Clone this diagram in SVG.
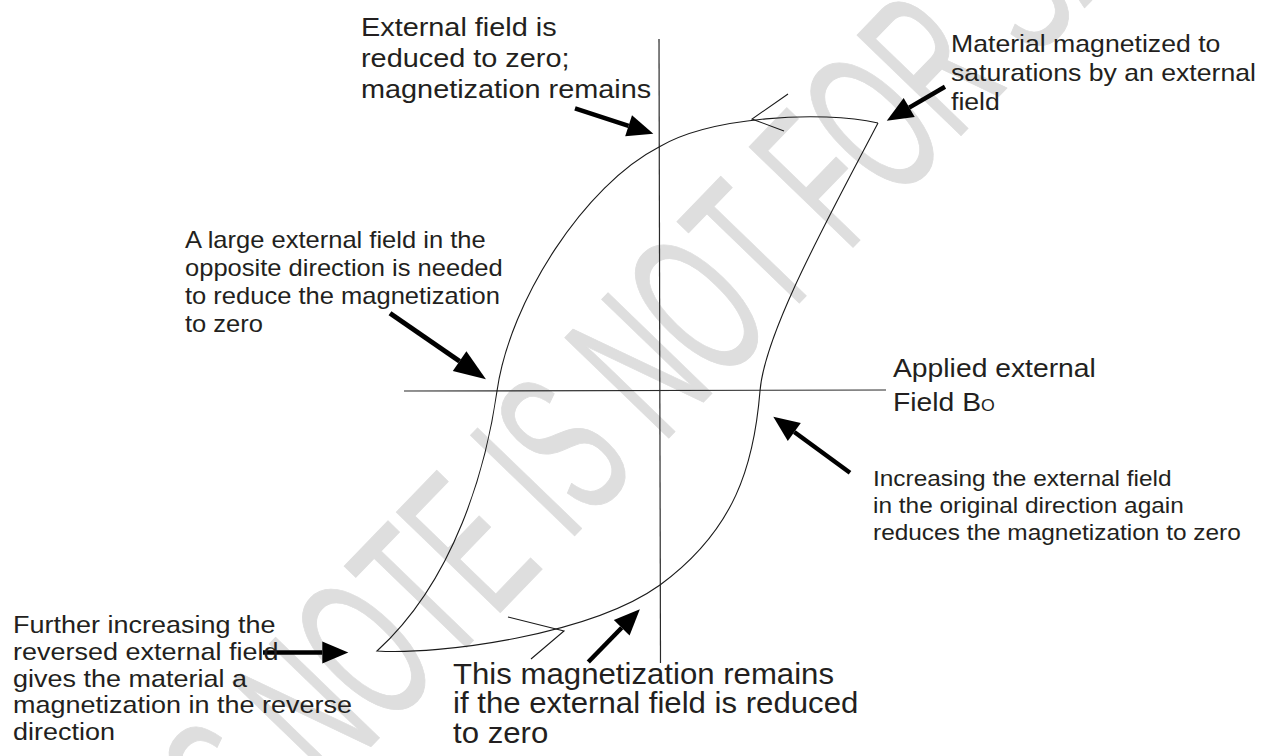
<svg xmlns="http://www.w3.org/2000/svg" width="1266" height="756" viewBox="0 0 1266 756">
<defs>
<style>
.t{font-family:"Liberation Sans",Arial,sans-serif;fill:#231f20}
.ax{stroke:#2a2a2a;stroke-width:1.2;fill:none}
.cv{stroke:#1a1a1a;stroke-width:1.1;fill:none}
.ar{stroke:#000;stroke-width:4.5;fill:none;marker-end:url(#ah)}
.arb{stroke:#000;stroke-width:5;fill:none;marker-end:url(#ahb)}
.wm{font-family:"Liberation Sans",Arial,sans-serif;font-size:210px;fill:#dedede;stroke:#dedede;stroke-width:1;stroke-linejoin:round}
</style>
<marker id="ah" markerUnits="userSpaceOnUse" markerWidth="26" markerHeight="22" refX="0" refY="11" orient="auto" overflow="visible"><path d="M0,0 L26,11 L0,22 z" fill="#000"/></marker>
<marker id="ahb" markerUnits="userSpaceOnUse" markerWidth="32" markerHeight="24" refX="0" refY="12" orient="auto" overflow="visible"><path d="M0,0 L32,12 L0,24 z" fill="#000"/></marker>
</defs>
<rect x="0" y="0" width="1266" height="756" fill="#fff"/>
<g id="watermark">
<text class="wm" transform="translate(131,995) rotate(-46) scale(0.533,1)">THIS NOTE IS NOT FOR SALE</text>
</g>
<g id="axes">
<line class="ax" x1="659" y1="39" x2="660.5" y2="663"/>
<line class="ax" x1="404" y1="391" x2="886" y2="390"/>
</g>
<g id="loop">
<path class="cv" d="M878,123 C820,110 710,117 659,147 C585,185 510,300 497,391 C486,468 455,580 377,651 C440,655 590,635 660,585 C735,530 754,465 760,391 C764.8,331.8 830,215 878,123"/>
<path class="cv" d="M788,94 L752,119 L784,131"/>
<path class="cv" d="M508,617 L564,631 L531,659"/>
</g>
<g id="connectors">
<line class="ar" x1="575" y1="108.3" x2="628.6" y2="125.8"/>
<line class="ar" x1="945" y1="86.7" x2="909.2" y2="107.6"/>
<line class="arb" x1="390" y1="313.3" x2="459.6" y2="361.2"/>
<line class="ar" x1="850" y1="472.7" x2="794.3" y2="432"/>
<line class="ar" x1="263" y1="652.5" x2="322.3" y2="652.5"/>
<line class="ar" x1="588.3" y1="662" x2="621.7" y2="627.8"/>
</g>
<g id="label-remains" transform="translate(361,0) scale(1.11,1)">
<text class="t" font-size="26"><tspan x="0" y="36">External field is</tspan><tspan x="0" y="67">reduced to zero;</tspan><tspan x="0" y="98">magnetization remains</tspan></text>
</g>
<g id="label-saturation" transform="translate(951,0) scale(1.11,1)">
<text class="t" font-size="24"><tspan x="0" y="52">Material magnetized to</tspan><tspan x="0" y="81">saturations by an external</tspan><tspan x="0" y="110">field</tspan></text>
</g>
<g id="label-coercive" transform="translate(185,0) scale(1.11,1)">
<text class="t" font-size="23"><tspan x="0" y="248">A large external field in the</tspan><tspan x="0" y="276">opposite direction is needed</tspan><tspan x="0" y="304">to reduce the magnetization</tspan><tspan x="0" y="332">to zero</tspan></text>
</g>
<g id="label-applied" transform="translate(893,0) scale(1.11,1)">
<text class="t" font-size="25.5"><tspan x="0" y="377">Applied external</tspan><tspan x="0" y="411">Field B<tspan font-size="16">O</tspan></tspan></text>
</g>
<g id="label-increasing" transform="translate(873,0) scale(1.11,1)">
<text class="t" font-size="22"><tspan x="0" y="486">Increasing the external field</tspan><tspan x="0" y="513">in the original direction again</tspan><tspan x="0" y="540">reduces the magnetization to zero</tspan></text>
</g>
<g id="label-reverse" transform="translate(13,0) scale(1.125,1)">
<text class="t" font-size="24"><tspan x="0" y="633">Further increasing the</tspan><tspan x="0" y="660">reversed external field</tspan><tspan x="0" y="687">gives the material a</tspan><tspan x="0" y="713">magnetization in the reverse</tspan><tspan x="0" y="740">direction</tspan></text>
</g>
<g id="label-remanence" transform="translate(453,0) scale(1.075,1)">
<text class="t" font-size="29"><tspan x="0" y="684">This magnetization remains</tspan><tspan x="0" y="713">if the external field is reduced</tspan><tspan x="0" y="743">to zero</tspan></text>
</g>
</svg>
